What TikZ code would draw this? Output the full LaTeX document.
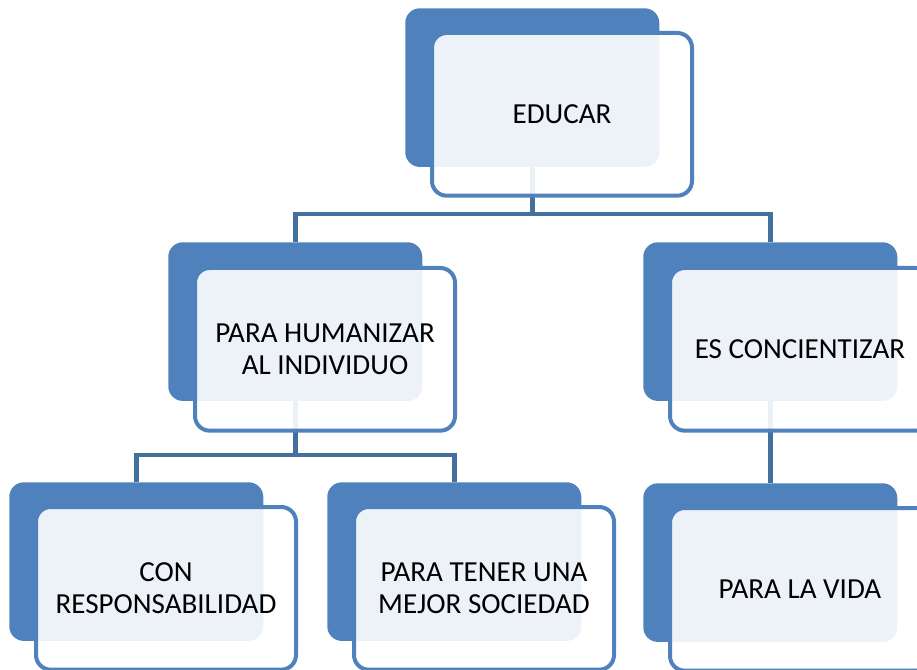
\documentclass[tikz,border=0pt]{standalone}
\usepackage{fontspec}
\setmainfont{Carlito}
\definecolor{backblue}{HTML}{4F81BD}
\definecolor{linkblue}{HTML}{41719C}

\begin{document}
\begin{tikzpicture}[x=0.75pt,y=-0.75pt,
    back/.style={draw=none,fill=backblue,rounded corners=11pt,inner sep=0pt,
                 minimum width=190.5pt,minimum height=119pt,anchor=north west},
    front/.style={draw=backblue,line width=3pt,fill=white,fill opacity=0.9,text opacity=1,
                  rounded corners=11pt,inner sep=0pt,minimum width=195pt,minimum height=122pt,
                  anchor=north west,align=center,font=\fontsize{21.8}{24}\selectfont},
    link/.style={draw=linkblue,line width=3.6pt}]
\clip (0,0) rectangle (917,670);

% back boxes
\node[back] (educarB) at (405,8) {};
\node[back] (humanizarB) at (168,242) {};
\node[back] (concienB) at (643,242) {};
\node[back] (responsB) at (9,482) {};
\node[back] (sociedadB) at (327,482) {};
\node[back] (vidaB) at (643,483) {};

% connectors
\coordinate (busA) at (0,214);
\coordinate (busB) at (0,455);
\draw[link] (educarB.south) |- (busA -| humanizarB.north) -- (humanizarB.north);
\draw[link] (educarB.south) |- (busA -| concienB.north) -- (concienB.north);
\draw[link] (humanizarB.south) |- (busB -| responsB.north) -- (responsB.north);
\draw[link] (humanizarB.south) |- (busB -| sociedadB.north) -- (sociedadB.north);
\draw[link] (concienB.south) -- (vidaB.north);

% front boxes
\node[front] (educar) at ([shift={(25,23)}]educarB.north west) {EDUCAR};
\node[front] (humanizar) at ([shift={(25,24)}]humanizarB.north west) {PARA HUMANIZAR\\AL INDIVIDUO};
\node[front] (concien) at ([shift={(25,24)}]concienB.north west) {ES CONCIENTIZAR};
\node[front] (respons) at ([shift={(25,23)}]responsB.north west) {CON\\RESPONSABILIDAD};
\node[front] (sociedad) at ([shift={(25,23)}]sociedadB.north west) {PARA TENER UNA\\MEJOR SOCIEDAD};
\node[front] (vida) at ([shift={(25,23)}]vidaB.north west) {PARA LA VIDA};
\end{tikzpicture}
\end{document}
